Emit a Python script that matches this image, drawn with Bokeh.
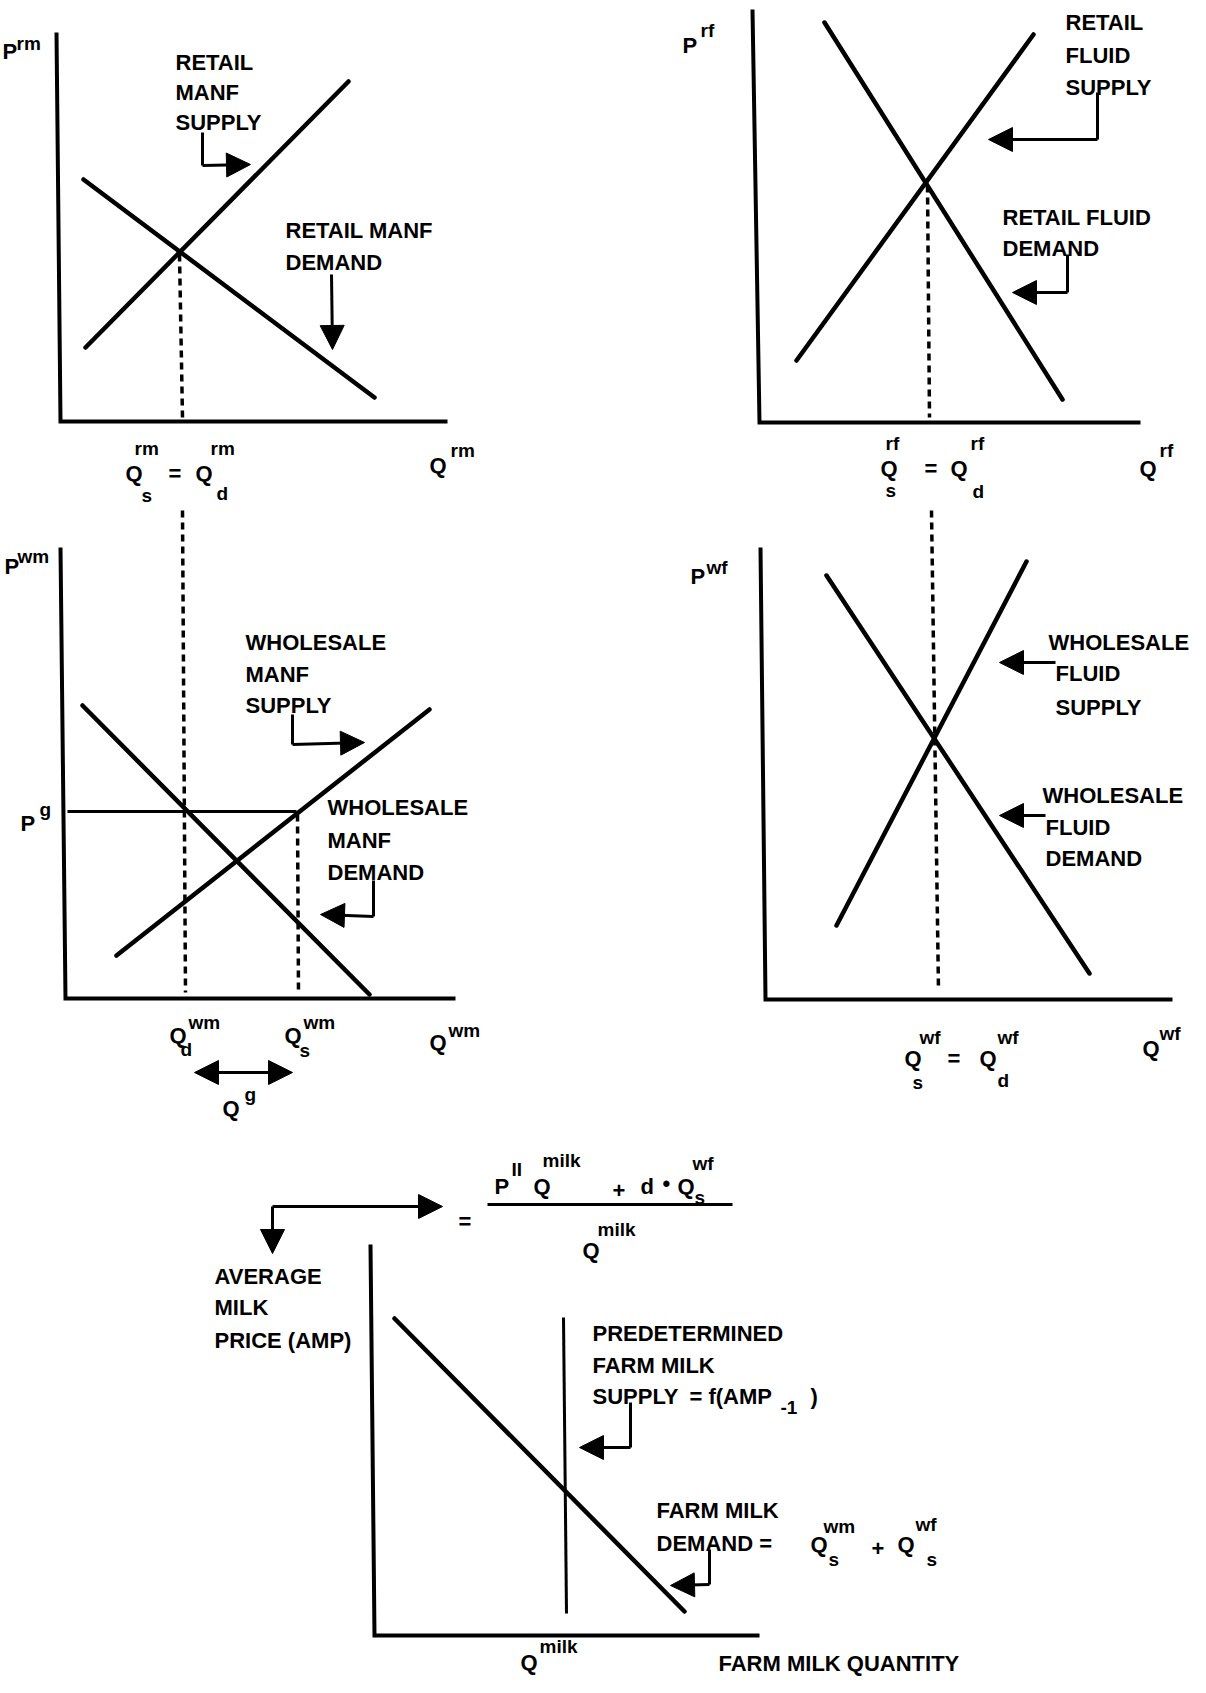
from bokeh.plotting import figure
from bokeh.models import ColumnDataSource, Arrow, NormalHead, Range1d
from bokeh.embed import file_html
from bokeh.resources import INLINE
from bokeh.core.properties import value

FONT = "Liberation Sans"
MAIN_SIZE = 22
SCRIPT_SIZE = 19

# ---------------- data (page pixel coordinates of the schematic) ----------------
# axes: y-axis top -> origin -> x-axis end, one polyline per panel
axis_x = [[64, 68, 455], [760, 767, 1148], [68, 73, 463], [768, 773, 1180], [378, 382, 767]]
axis_y = [[40, 429, 429], [17, 430, 430], [555, 1006, 1006], [555, 1007, 1007], [1252, 1643, 1643]]

# supply / demand curves (retail manf S,D; retail fluid S,D; wholesale manf S,D; wholesale fluid S,D; farm demand)
curve_x0 = [93, 91, 804, 832, 124, 90, 844, 834, 402]
curve_y0 = [355, 187, 368, 30, 963, 713, 933, 583, 1326]
curve_x1 = [356, 382, 1041, 1070, 437, 377, 1034, 1097, 692]
curve_y1 = [89, 405, 42, 407, 717, 1002, 569, 981, 1619]

# thin solid lines: support price P^g, predetermined farm supply, fraction bar
thin_x0 = [75, 571, 495]
thin_y0 = [819, 1325, 1212]
thin_x1 = [304, 574, 740]
thin_y1 = [819, 1621, 1212]

# dashed equilibrium drop lines
dash_x0 = [187, 190, 305, 935, 939]
dash_y0 = [262, 518, 822, 193, 518]
dash_x1 = [190, 193, 306, 937, 946]
dash_y1 = [425, 1000, 1000, 425, 998]

# arrow stems (bent part of the pointers)
stem_x = [[210, 210], [1105, 1105], [1075, 1075], [300, 300], [381, 381], [638, 638], [717, 717]]
stem_y = [[140, 173], [100, 147], [262, 300], [722, 752], [888, 924], [1410, 1455], [1557, 1592]]

# arrows with a head at the end
arr_x0 = [210, 339, 1105, 1075, 300, 381, 1063, 1053, 280, 280, 638, 717]
arr_y0 = [173, 282, 147, 300, 752, 924, 670, 823, 1214, 1214, 1455, 1592]
arr_x1 = [258, 340, 996, 1020, 372, 328, 1007, 1007, 450, 280, 587, 678]
arr_y1 = [172, 357, 147, 300, 750, 922, 670, 823, 1214, 1261, 1455, 1593]

# double-headed arrow Q^g
dbl_x0 = [202]
dbl_y0 = [1080]
dbl_x1 = [300]
dbl_y1 = [1080]

# main-size texts (left x, centre y of capitals)
main_text = [
    "RETAIL", "MANF", "SUPPLY", "RETAIL MANF", "DEMAND", "P", "Q", "=", "Q", "Q",
    "RETAIL", "FLUID", "SUPPLY", "RETAIL FLUID", "DEMAND", "P", "Q", "=", "Q", "Q",
    "WHOLESALE", "MANF", "SUPPLY", "WHOLESALE", "MANF", "DEMAND", "P", "P", "Q", "Q", "Q", "Q",
    "WHOLESALE", "FLUID", "SUPPLY", "WHOLESALE", "FLUID", "DEMAND", "P", "Q", "=", "Q", "Q",
    "=", "P", "Q", "+", "d", "\u2022", "Q", "Q",
    "AVERAGE", "MILK", "PRICE (AMP)",
    "PREDETERMINED", "FARM MILK", "SUPPLY", "= f(AMP", ")",
    "FARM MILK", "DEMAND =", "Q", "+", "Q",
    "FARM MILK QUANTITY", "Q",
]
main_x = [
    183, 183, 183, 293, 293, 10, 133, 176, 203, 437,
    1073, 1073, 1073, 1010, 1010, 690, 888, 932, 958, 1147,
    253, 253, 253, 335, 335, 335, 12, 28, 177, 292, 437, 230,
    1056, 1063, 1063, 1050, 1053, 1053, 698, 912, 955, 987, 1150,
    466, 502, 541, 620, 648, 670, 685, 590,
    222, 222, 222,
    600, 600, 600, 697, 818,
    664, 664, 818, 879, 905,
    726, 528,
]
main_y = [
    62, 92, 122, 230, 262, 51, 473, 473, 473, 465,
    22, 55, 87, 217, 248, 45, 468, 468, 468, 468,
    642, 674, 705, 807, 840, 872, 566, 823, 1035, 1035, 1042, 1108,
    642, 673, 707, 795, 827, 858, 576, 1058, 1058, 1058, 1048,
    1221, 1186, 1186, 1190, 1186, 1183, 1186, 1250,
    1276, 1307, 1340,
    1333, 1365, 1396, 1396, 1396,
    1510, 1543, 1544, 1548, 1544,
    1663, 1662,
]

# superscripts / subscripts (left x, centre y of lowercase)
script_text = [
    "rm", "rm", "s", "rm", "d", "rm",
    "rf", "rf", "s", "rf", "d", "rf",
    "wm", "g", "wm", "d", "wm", "s", "wm", "g",
    "wf", "wf", "s", "wf", "d", "wf",
    "II", "milk", "s", "wf", "milk", "-1", "wm", "s", "wf", "s", "milk",
]
script_x = [
    24, 142, 149, 218, 224, 458,
    708, 893, 893, 978, 980, 1167,
    25, 47, 196, 188, 311, 307, 456, 252,
    714, 927, 920, 1005, 1005, 1167,
    519, 550, 702, 700, 605, 788, 831, 836, 923, 934, 547,
]
script_y = [
    46, 451, 498, 451, 496, 453,
    33, 446, 493, 446, 494, 453,
    559, 812, 1025, 1052, 1025, 1053, 1033, 1097,
    570, 1040, 1085, 1040, 1083, 1036,
    1172, 1163, 1200, 1166, 1232, 1410, 1529, 1562, 1527, 1562, 1649,
]

# ---------------- figure ----------------
p = figure(width=1190, height=1677, x_range=Range1d(8, 1198), y_range=Range1d(1685, 8),
           output_backend="svg", toolbar_location=None, tools="", min_border=0)
p.axis.visible = False
p.grid.visible = False
p.outline_line_color = None
p.background_fill_color = "white"
p.border_fill_color = "white"

p.multi_line(xs=axis_x, ys=axis_y, line_width=4, line_color="black", line_join="miter")
p.segment(x0=curve_x0, y0=curve_y0, x1=curve_x1, y1=curve_y1,
          line_width=4.5, line_color="black", line_cap="round")
p.segment(x0=thin_x0, y0=thin_y0, x1=thin_x1, y1=thin_y1, line_width=3, line_color="black")
p.segment(x0=dash_x0, y0=dash_y0, x1=dash_x1, y1=dash_y1, line_width=3.5,
          line_color="black", line_dash="7 5")
p.multi_line(xs=stem_x, ys=stem_y, line_width=3, line_color="black")

arr_src = ColumnDataSource(dict(x0=arr_x0, y0=arr_y0, x1=arr_x1, y1=arr_y1))
p.add_layout(Arrow(end=NormalHead(size=24, fill_color="black", line_color="black", line_width=1),
                   source=arr_src, x_start="x0", y_start="y0", x_end="x1", y_end="y1",
                   line_width=3, line_color="black"))
dbl_src = ColumnDataSource(dict(x0=dbl_x0, y0=dbl_y0, x1=dbl_x1, y1=dbl_y1))
p.add_layout(Arrow(start=NormalHead(size=24, fill_color="black", line_color="black", line_width=1),
                   end=NormalHead(size=24, fill_color="black", line_color="black", line_width=1),
                   source=dbl_src, x_start="x0", y_start="y0", x_end="x1", y_end="y1",
                   line_width=3, line_color="black"))

main_base = [y + 0.36 * MAIN_SIZE for y in main_y]
p.text(x=main_x, y=main_base, text=main_text, text_font=value(FONT),
       text_font_size=f"{MAIN_SIZE}px", text_font_style="bold",
       text_baseline="alphabetic", text_align="left", text_color="black")
script_base = [y + 0.26 * SCRIPT_SIZE for y in script_y]
p.text(x=script_x, y=script_base, text=script_text, text_font=value(FONT),
       text_font_size=f"{SCRIPT_SIZE}px", text_font_style="bold",
       text_baseline="alphabetic", text_align="left", text_color="black")

open("out.html", "w").write(file_html(p, INLINE))
